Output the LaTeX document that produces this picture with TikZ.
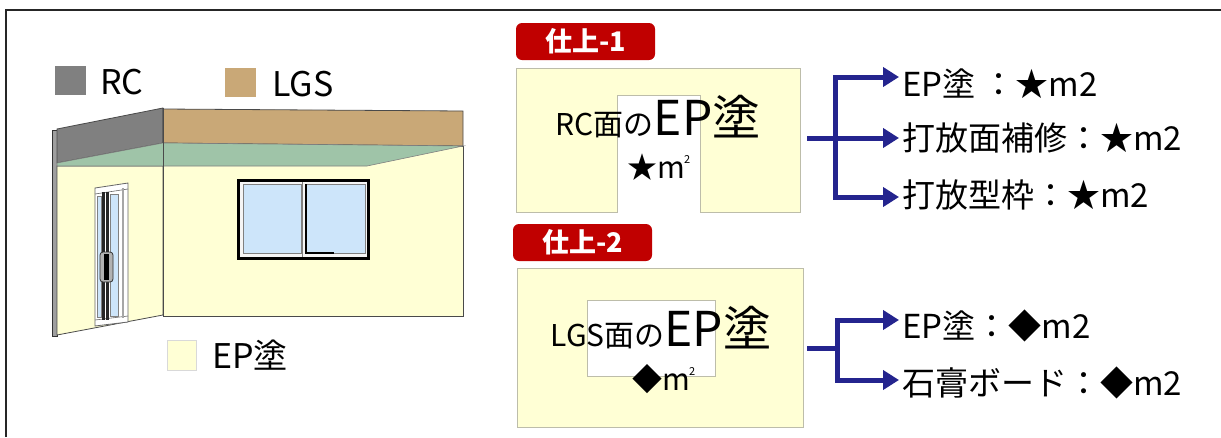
\documentclass[tikz,border=0pt]{standalone}
\usepackage{fontspec}
\setmainfont{Noto Sans CJK JP}
\usetikzlibrary{arrows.meta,calc}

\definecolor{rcgray}{HTML}{808080}
\definecolor{lgstan}{HTML}{C9A877}
\definecolor{ceilgreen}{HTML}{9FC4A8}
\definecolor{wallcream}{HTML}{FFFFD5}
\definecolor{panelline}{HTML}{BDBDAA}
\definecolor{glassblue}{HTML}{CDE5FA}
\definecolor{badgered}{HTML}{C00000}
\definecolor{flownavy}{HTML}{24248E}
\definecolor{edgegray}{HTML}{4A4A4A}

% square metres: m with a small raised 2
\newcommand{\sqmetre}{m\hspace{-1.5pt}\raisebox{15pt}{\fontsize{11}{11}\selectfont 2}}

\begin{document}
\begin{tikzpicture}[x=1pt,y=-1pt,
  legendtext/.style={anchor=base west,inner sep=0pt,font=\fontsize{34}{34}\selectfont},
  listtext/.style={anchor=base west,inner sep=0pt,font=\fontsize{33}{33}\selectfont},
  badge/.style={fill=badgered,rounded corners=6pt,minimum width=139pt,minimum height=37pt,
    inner sep=0pt,text=white,font=\fontsize{27}{27}\selectfont\bfseries},
  panel/.style={fill=wallcream,draw=panelline,line width=1pt},
  flow/.style={draw=flownavy,line width=5pt,line join=miter},
  flowarrow/.style={flow,-{Triangle[length=16pt,width=19pt]}},
  wallline/.style={draw=edgegray,line width=0.8pt}]

\useasboundingbox (0,0) rectangle (1221,437);

% frame lines along the top and the left side
\draw[black!85,line width=2pt] (6,437) -- (6,10) -- (1221,10);

% ---------- legend ----------
\filldraw[fill=rcgray,draw=rcgray] (55,66) rectangle (85,94);
\node[legendtext] (lgRC) at (100,94) {RC};
\filldraw[fill=lgstan,draw=lgstan] (225,68) rectangle (255,96);
\node[legendtext] (lgLGS) at (272,96) {LGS};
\filldraw[fill=wallcream,draw=black!15] (167,340) rectangle (196,370);
\node[legendtext] (lgEP) at (212,368) {EP塗};

% ---------- room ----------
% thin end face of the left wall
\filldraw[fill=gray!75,draw=black!80,line width=0.6pt] (52,130) rectangle (57,336);
% left wall, concrete band at the top
\filldraw[fill=rcgray,wallline] (57,129) -- (163,108) -- (163,143) -- (57,163) -- cycle;
% right wall, light-gauge steel band at the top
\filldraw[fill=lgstan,wallline] (163,109) -- (463,111) -- (463,146) -- (163,143) -- cycle;
% painted wall faces
\filldraw[fill=wallcream,wallline] (57,166) -- (163,166) -- (163,315) -- (57,335) -- cycle;
\filldraw[fill=wallcream,wallline] (163,146) -- (463,146) -- (463,316) -- (163,316) -- cycle;
% ceiling edge
\filldraw[fill=ceilgreen,draw=edgegray!70,line width=0.6pt]
  (57,163) -- (163,143) -- (463,146) -- (367,166) -- (57,166) -- cycle;
\draw[wallline] (163,108) -- (163,316);

% window
\fill[black] (237,179) rectangle (370,260);
\fill[white!92!gray] (240,182) rectangle (367,257);
\filldraw[fill=glassblue,draw=gray] (243,184) rectangle (301,253);
\filldraw[fill=glassblue,draw=gray] (306,184) rectangle (365,253);
\draw[gray,line width=1pt] (302.5,182) -- (302.5,257);
\draw[black,line width=1.6pt] (306,184) -- (306,253) -- (334,253);

% door
\filldraw[fill=white,draw=gray!80!black,line width=0.8pt] (95,188) -- (128,183) -- (128,322) -- (95,326) -- cycle;
\draw[gray!80!black,line width=0.6pt] (95,194) -- (128,189);
\draw[gray!80!black,line width=0.6pt] (95,320) -- (128,316);
\filldraw[fill=glassblue,draw=gray] (97.5,196) rectangle (101,317);
\filldraw[fill=glassblue,draw=gray] (110,194) rectangle (118,316);
\fill[black!85] (101.5,192) rectangle (104.5,320);
\fill[black!85] (106,192) rectangle (108.5,320);
\fill[gray!70] (122,188) rectangle (124,318);
\filldraw[fill=gray!60,draw=black!80,rounded corners=3pt,line width=0.8pt] (100,252) rectangle (113,282);
\fill[black] (104,254) rectangle (108.5,280);

% ---------- finish 1 ----------
\node[badge] (b1) at (585.5,41.5) {仕上-1};
\filldraw[panel] (516,68) -- (800,68) -- (800,212) -- (700,212) -- (700,95)
  -- (617,95) -- (617,212) -- (516,212) -- cycle;
\node[anchor=base,inner sep=0pt] (f1title) at (658,135)
  {{\fontsize{30}{30}\selectfont RC面の}{\fontsize{48}{48}\selectfont EP塗}};
\node[anchor=base,inner sep=0pt,font=\fontsize{30}{30}\selectfont] (f1qty) at (659,178) {★\sqmetre};

\coordinate (p1e) at (807,138);
\coordinate (j1) at (835,138);
\coordinate (a11) at (899,77);
\coordinate (a12) at (899,138);
\coordinate (a13) at (899,197);
\node[listtext] (t11) at (902,96) {EP塗 ：★m2};
\node[listtext] (t12) at (902,150) {打放面補修：★m2};
\node[listtext] (t13) at (902,207) {打放型枠：★m2};
\draw[flowarrow] (j1) -- (j1 |- a11) -- (a11);
\draw[flowarrow] (p1e) -- (a12);
\draw[flowarrow] (j1) -- (j1 |- a13) -- (a13);

% ---------- finish 2 ----------
\node[badge] (b2) at (582.5,242.5) {仕上-2};
\filldraw[panel] (517,268) rectangle (803,427);
\filldraw[fill=white,draw=panelline,line width=1pt] (587,300) rectangle (715,376);
\node[anchor=base,inner sep=0pt] (f2title) at (661,346)
  {{\fontsize{30}{30}\selectfont LGS面の}{\fontsize{48}{48}\selectfont EP塗}};
\node[anchor=base,inner sep=0pt,font=\fontsize{30}{30}\selectfont] (f2qty) at (664,390) {◆\sqmetre};

\coordinate (p2e) at (807,348);
\coordinate (j2) at (837,348);
\coordinate (a21) at (899,320);
\coordinate (a22) at (899,380);
\node[listtext] (t21) at (902,338) {EP塗：◆m2};
\node[listtext] (t22) at (902,395) {石膏ボード：◆m2};
\draw[flow] (p2e) -- (j2);
\draw[flowarrow] (j2) -- (j2 |- a21) -- (a21);
\draw[flowarrow] (j2) -- (j2 |- a22) -- (a22);

\end{tikzpicture}
\end{document}
